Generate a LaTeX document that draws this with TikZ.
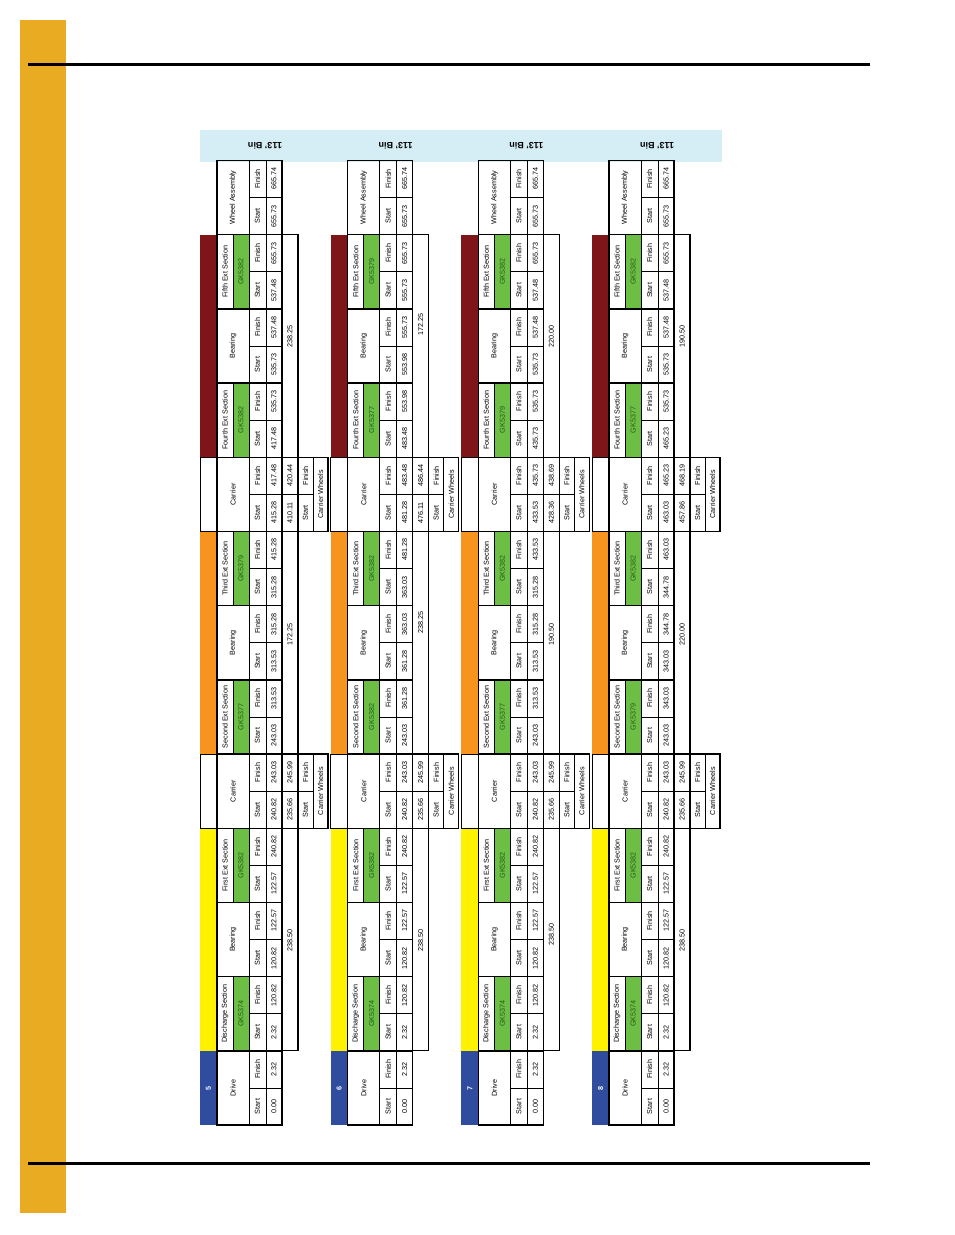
\documentclass[tikz,border=0pt]{standalone}
\usepackage{fontspec}
\setmainfont{Liberation Sans}
\definecolor{pagebar}{HTML}{E9AB22}
\definecolor{hdrblue}{HTML}{D5EDF4}
\definecolor{drvblue}{HTML}{2F4C9E}
\definecolor{secyel}{HTML}{FFF200}
\definecolor{secorg}{HTML}{F7941D}
\definecolor{secred}{HTML}{7E1518}
\definecolor{gkgreen}{HTML}{6DBE45}
\definecolor{gktext}{HTML}{1F5E1A}
\newcommand\fs{\fontsize{7.2}{8}\selectfont}
\tikzset{cell/.style={draw,line width=0.5pt},outer/.style={draw,line width=1.3pt},
 txt/.style={rotate=90,inner sep=0pt,font=\fs}}
\newcommand{\gset}[1]{\pgfmathsetmacro\gT{1125-74.2*#1}\pgfmathsetmacro\gB{\gT+74.2}\pgfmathsetmacro\gM{\gT+37.1}}
\newcommand{\sfcells}[4]{% X, id, start, finish
\draw[cell] (#1+49,\gT) rectangle (#1+66,\gM);
\draw[cell] (#1+49,\gM) rectangle (#1+66,\gB);
\draw[cell] (#1+66,\gT) rectangle (#1+82,\gM);
\draw[cell] (#1+66,\gM) rectangle (#1+82,\gB);
\node[txt] (#2s) at (#1+57.5,\gM+18.55) {Start};
\node[txt] (#2f) at (#1+57.5,\gM-18.55) {Finish};
\node[txt] (#2v) at (#1+74,\gM+18.55) {#3};
\node[txt] (#2w) at (#1+74,\gM-18.55) {#4};}
\newcommand{\SecG}[7]{% X g name gk start finish id
\gset{#2}%
\fill[gkgreen] (#1+33,\gT) rectangle (#1+49,\gB);
\draw[cell] (#1+17,\gT) rectangle (#1+33,\gB);
\draw[cell] (#1+33,\gT) rectangle (#1+49,\gB);
\node[txt] (#7n) at (#1+25,\gM) {#3};
\node[txt,text=gktext] (#7k) at (#1+41,\gM) {#4};
\sfcells{#1}{#7}{#5}{#6}
\draw[outer] (#1+17,\gT) rectangle (#1+82,\gB);}
\newcommand{\PlG}[6]{% X g name start finish id
\gset{#2}%
\draw[cell] (#1+17,\gT) rectangle (#1+49,\gB);
\node[txt] (#6n) at (#1+33,\gM) {#3};
\sfcells{#1}{#6}{#4}{#5}
\draw[outer] (#1+17,\gT) rectangle (#1+82,\gB);}
\newcommand{\CarG}[7]{% X g s f s2 f2 id
\PlG{#1}{#2}{Carrier}{#3}{#4}{#7}
\draw[cell] (#1,\gT) rectangle (#1+17,\gB);
\draw[cell] (#1+82,\gT) rectangle (#1+98,\gM);
\draw[cell] (#1+82,\gM) rectangle (#1+98,\gB);
\draw[cell] (#1+98,\gT) rectangle (#1+113,\gM);
\draw[cell] (#1+98,\gM) rectangle (#1+113,\gB);
\draw[cell] (#1+113,\gT) rectangle (#1+128,\gB);
\node[txt] (#7p) at (#1+90,\gM+18.55) {#5};
\node[txt] (#7q) at (#1+90,\gM-18.55) {#6};
\node[txt] (#7x) at (#1+105.5,\gM+18.55) {Start};
\node[txt] (#7y) at (#1+105.5,\gM-18.55) {Finish};
\node[txt] (#7z) at (#1+120.5,\gM) {Carrier Wheels};
\draw[outer] (#1+82,\gT) rectangle (#1+98,\gB);
\draw[outer] (#1+98,\gT) rectangle (#1+128,\gB);}
\newcommand{\MrgC}[6]{% X g1 g2 text texty id
\pgfmathsetmacro\mT{1125-74.2*#3}\pgfmathsetmacro\mB{1125-74.2*(#2-1)}
\draw[outer] (#1+82,\mT) rectangle (#1+98,\mB);
\node[txt] (#6) at (#1+90,#5) {#4};}
\newcommand{\Bars}[3]{% X num id
\fill[drvblue] (#1,1050.8) rectangle (#1+17,1125);
\node[txt,text=white,font=\fs\bfseries] (#3b) at (#1+8.5,1088) {#2};
\fill[secyel] (#1,828.2) rectangle (#1+17,1050.8);
\fill[secorg] (#1,531.4) rectangle (#1+17,754);
\fill[secred] (#1,234.6) rectangle (#1+17,457.2);
\node[rotate=180,font=\fontsize{9}{10}\selectfont\bfseries] (#3h) at (#1+65,146) {113' Bin};}
\begin{document}
\begin{tikzpicture}[x=1pt,y=-1pt]
\useasboundingbox (0,0) rectangle (954,1235);
\fill[pagebar] (20,20) rectangle (66,1213);
\draw[line width=3pt] (28,64) -- (870,64);
\draw[line width=3pt] (28,1163) -- (870,1163);
\fill[hdrblue] (200,130) rectangle (722,162);
% Block 5
\def\X{200}
\Bars{\X}{5}{a}
\PlG{\X}{1}{Drive}{0.00}{2.32}{a1}
\SecG{\X}{2}{Discharge Section}{GK5374}{2.32}{120.82}{a2}
\PlG{\X}{3}{Bearing}{120.82}{122.57}{a3}
\SecG{\X}{4}{First Ext Section}{GK5382}{122.57}{240.82}{a4}
\CarG{\X}{5}{240.82}{243.03}{235.66}{245.99}{a5}
\SecG{\X}{6}{Second Ext Section}{GK5377}{243.03}{313.53}{a6}
\PlG{\X}{7}{Bearing}{313.53}{315.28}{a7}
\SecG{\X}{8}{Third Ext Section}{GK5379}{315.28}{415.28}{a8}
\CarG{\X}{9}{415.28}{417.48}{410.11}{420.44}{a9}
\SecG{\X}{10}{Fourth Ext Section}{GK5382}{417.48}{535.73}{a10}
\PlG{\X}{11}{Bearing}{535.73}{537.48}{a11}
\SecG{\X}{12}{Fifth Ext Section}{GK5382}{537.48}{655.73}{a12}
\PlG{\X}{13}{Wheel Assembly}{655.73}{665.74}{a13}
\MrgC{\X}{2}{4}{238.50}{940}{am1}
\MrgC{\X}{6}{8}{172.25}{634}{am2}
\MrgC{\X}{10}{12}{238.25}{336}{am3}
% Block 6
\def\X{330.7}
\Bars{\X}{6}{b}
\PlG{\X}{1}{Drive}{0.00}{2.32}{b1}
\SecG{\X}{2}{Discharge Section}{GK5374}{2.32}{120.82}{b2}
\PlG{\X}{3}{Bearing}{120.82}{122.57}{b3}
\SecG{\X}{4}{First Ext Section}{GK5382}{122.57}{240.82}{b4}
\CarG{\X}{5}{240.82}{243.03}{235.66}{245.99}{b5}
\SecG{\X}{6}{Second Ext Section}{GK5382}{243.03}{361.28}{b6}
\PlG{\X}{7}{Bearing}{361.28}{363.03}{b7}
\SecG{\X}{8}{Third Ext Section}{GK5382}{363.03}{481.28}{b8}
\CarG{\X}{9}{481.28}{483.48}{476.11}{486.44}{b9}
\SecG{\X}{10}{Fourth Ext Section}{GK5377}{483.48}{553.98}{b10}
\PlG{\X}{11}{Bearing}{553.98}{555.73}{b11}
\SecG{\X}{12}{Fifth Ext Section}{GK5379}{555.73}{655.73}{b12}
\PlG{\X}{13}{Wheel Assembly}{655.73}{665.74}{b13}
\MrgC{\X}{2}{4}{238.50}{940}{bm1}
\MrgC{\X}{6}{8}{238.25}{622}{bm2}
\MrgC{\X}{10}{12}{172.25}{324}{bm3}
% Block 7
\def\X{461.4}
\Bars{\X}{7}{c}
\PlG{\X}{1}{Drive}{0.00}{2.32}{c1}
\SecG{\X}{2}{Discharge Section}{GK5374}{2.32}{120.82}{c2}
\PlG{\X}{3}{Bearing}{120.82}{122.57}{c3}
\SecG{\X}{4}{First Ext Section}{GK5382}{122.57}{240.82}{c4}
\CarG{\X}{5}{240.82}{243.03}{235.66}{245.99}{c5}
\SecG{\X}{6}{Second Ext Section}{GK5377}{243.03}{313.53}{c6}
\PlG{\X}{7}{Bearing}{313.53}{315.28}{c7}
\SecG{\X}{8}{Third Ext Section}{GK5382}{315.28}{433.53}{c8}
\CarG{\X}{9}{433.53}{435.73}{428.36}{438.69}{c9}
\SecG{\X}{10}{Fourth Ext Section}{GK5379}{435.73}{535.73}{c10}
\PlG{\X}{11}{Bearing}{535.73}{537.48}{c11}
\SecG{\X}{12}{Fifth Ext Section}{GK5382}{537.48}{655.73}{c12}
\PlG{\X}{13}{Wheel Assembly}{655.73}{665.74}{c13}
\MrgC{\X}{2}{4}{238.50}{934}{cm1}
\MrgC{\X}{6}{8}{190.50}{634}{cm2}
\MrgC{\X}{10}{12}{220.00}{336}{cm3}
% Block 8
\def\X{592.1}
\Bars{\X}{8}{d}
\PlG{\X}{1}{Drive}{0.00}{2.32}{d1}
\SecG{\X}{2}{Discharge Section}{GK5374}{2.32}{120.82}{d2}
\PlG{\X}{3}{Bearing}{120.82}{122.57}{d3}
\SecG{\X}{4}{First Ext Section}{GK5382}{122.57}{240.82}{d4}
\CarG{\X}{5}{240.82}{243.03}{235.66}{245.99}{d5}
\SecG{\X}{6}{Second Ext Section}{GK5379}{243.03}{343.03}{d6}
\PlG{\X}{7}{Bearing}{343.03}{344.78}{d7}
\SecG{\X}{8}{Third Ext Section}{GK5382}{344.78}{463.03}{d8}
\CarG{\X}{9}{463.03}{465.23}{457.86}{468.19}{d9}
\SecG{\X}{10}{Fourth Ext Section}{GK5377}{465.23}{535.73}{d10}
\PlG{\X}{11}{Bearing}{535.73}{537.48}{d11}
\SecG{\X}{12}{Fifth Ext Section}{GK5382}{537.48}{655.73}{d12}
\PlG{\X}{13}{Wheel Assembly}{655.73}{665.74}{d13}
\MrgC{\X}{2}{4}{238.50}{940}{dm1}
\MrgC{\X}{6}{8}{220.00}{634}{dm2}
\MrgC{\X}{10}{12}{190.50}{336}{dm3}
\end{tikzpicture}
\end{document}
